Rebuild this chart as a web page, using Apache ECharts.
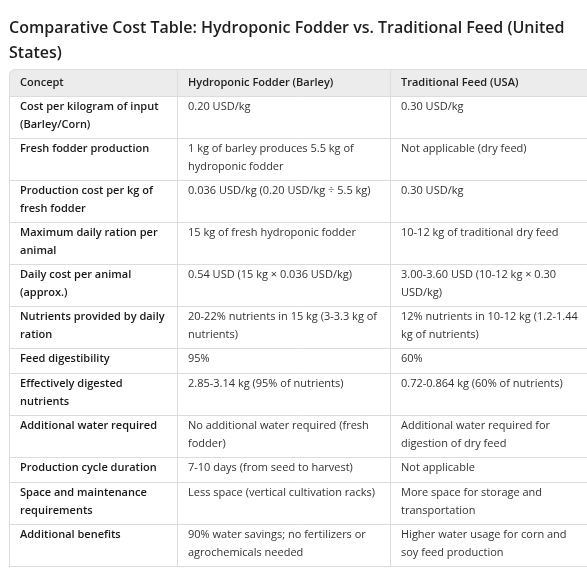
<!DOCTYPE html>
<html><head><meta charset="utf-8">
<script src="https://cdn.jsdelivr.net/npm/echarts@6/dist/echarts.min.js"></script>
<style>html,body{margin:0;padding:0;background:#fff}#c{width:587px;height:569px}</style>
</head><body><div id="c"></div>
<script>
const titleLines = ["Comparative Cost Table: Hydroponic Fodder vs. Traditional Feed (United", "States)"];
const headers = ["Concept", "Hydroponic Fodder (Barley)", "Traditional Feed (USA)"];
const concepts = ["Cost per kilogram of input\n(Barley/Corn)", "Fresh fodder production", "Production cost per kg of\nfresh fodder", "Maximum daily ration per\nanimal", "Daily cost per animal\n(approx.)", "Nutrients provided by daily\nration", "Feed digestibility", "Effectively digested\nnutrients", "Additional water required", "Production cycle duration", "Space and maintenance\nrequirements", "Additional benefits"];
const hydroponic = ["0.20 USD/kg", "1 kg of barley produces 5.5 kg of\nhydroponic fodder", "0.036 USD/kg (0.20 USD/kg ÷ 5.5 kg)", "15 kg of fresh hydroponic fodder", "0.54 USD (15 kg × 0.036 USD/kg)", "20-22% nutrients in 15 kg (3-3.3 kg of\nnutrients)", "95%", "2.85-3.14 kg (95% of nutrients)", "No additional water required (fresh\nfodder)", "7-10 days (from seed to harvest)", "Less space (vertical cultivation racks)", "90% water savings; no fertilizers or\nagrochemicals needed"];
const traditional = ["0.30 USD/kg", "Not applicable (dry feed)", "0.30 USD/kg", "10-12 kg of traditional dry feed", "3.00-3.60 USD (10-12 kg × 0.30\nUSD/kg)", "12% nutrients in 10-12 kg (1.2-1.44\nkg of nutrients)", "60%", "0.72-0.864 kg (60% of nutrients)", "Additional water required for\ndigestion of dry feed", "Not applicable", "More space for storage and\ntransportation", "Higher water usage for corn and\nsoy feed production"];

const chart = echarts.init(document.getElementById('c'));
const F = '"Segoe UI","Open Sans","Noto Sans",sans-serif';
const colX = [9, 177, 390, 600];
const g = [];
g.push({type:'text', left:9, top:16, style:{text:titleLines.join('\n'), font:'600 16px '+F, fill:'#1f1f1f', lineHeight:25}});
const top0 = 69, headH = 27;
g.push({type:'rect', shape:{x:9,y:top0,width:600,height:headH,r:[6,0,0,0]}, style:{fill:'#ececec'}});
headers.forEach((h,i)=>g.push({type:'text', x:colX[i]+11, y:top0+headH/2, style:{text:h, font:'600 11px '+F, fill:'#222', verticalAlign:'middle'}}));
let y = top0+headH;
const rowTops=[top0,y];
for (let r=0;r<concepts.length;r++){
  const n = Math.max(...[concepts[r],hydroponic[r],traditional[r]].map(s=>s.split('\n').length));
  const h = 8 + 17*n;
  [concepts[r],hydroponic[r],traditional[r]].forEach((t,i)=>g.push({type:'text', x:colX[i]+11, y:y+2, style:{text:t, font:(i==0?'600 ':'400 ')+'11px '+F, fill:i==0?'#1a1a1a':'#333', verticalAlign:'top', lineHeight:18}}));
  y += h; rowTops.push(y);
}
rowTops.slice(1).forEach(yy=>g.push({type:'line', shape:{x1:9,y1:yy+0.5,x2:600,y2:yy+0.5}, style:{stroke:'#dcdcdc',lineWidth:1}}));
g.push({type:'rect', shape:{x:9.5,y:top0+0.5,width:600,height:y-top0,r:[6,0,0,0]}, style:{fill:'none',stroke:'#dcdcdc',lineWidth:1}});
[1,2].forEach(i=>g.push({type:'line', shape:{x1:colX[i]+0.5,y1:top0,x2:colX[i]+0.5,y2:y}, style:{stroke:'#dcdcdc',lineWidth:1}}));
chart.setOption({animation:false, graphic:g});
</script></body></html>
